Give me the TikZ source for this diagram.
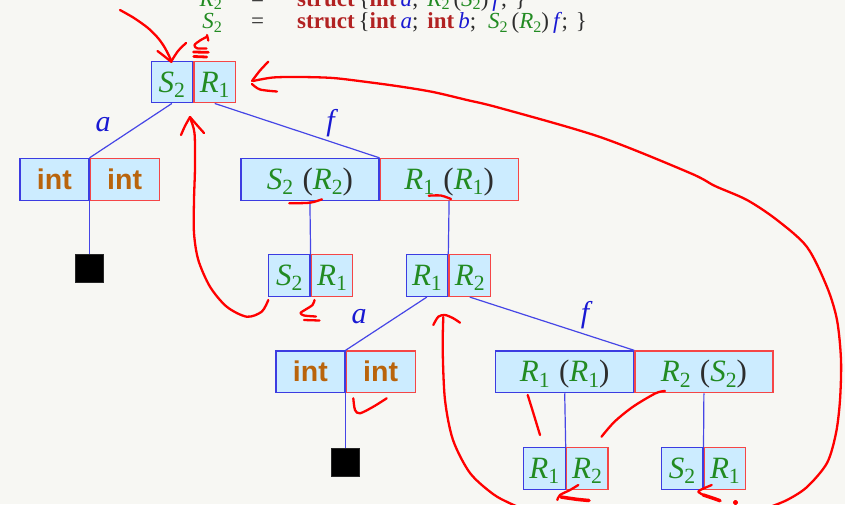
\documentclass[tikz,border=0pt]{standalone}
\usepackage{fontspec}
\setmainfont{Liberation Serif}
\newfontfamily\sansint{Liberation Sans}

\definecolor{bg}{RGB}{247,247,243}
\definecolor{boxfill}{RGB}{204,236,255}
\definecolor{boxblue}{RGB}{60,60,225}
\definecolor{boxred}{RGB}{245,70,70}
\definecolor{edgeblue}{RGB}{70,70,230}
\definecolor{tgreen}{RGB}{34,139,34}
\definecolor{lblue}{RGB}{25,25,210}
\definecolor{kwred}{RGB}{178,34,34}
\definecolor{intbrown}{RGB}{185,100,12}
\definecolor{paren}{RGB}{45,45,45}
\definecolor{ink}{RGB}{255,0,0}

% type variable with an upright subscript
\newcommand\tv[2]{{\color{tgreen}\itshape #1\raisebox{-0.17em}{\upshape\scalebox{0.7}{#2}}}}
% type variable applied to a type variable
\newcommand\pv[4]{\tv{#1}{#2}\hspace{0.3em}{\color{paren}(}\tv{#3}{#4}{\color{paren})}}
\newcommand\kint{{\sansint\bfseries\color{intbrown}int}}
% pieces of the struct definitions
\newcommand\kw[1]{{\color{kwred}\bfseries #1}}
\newcommand\fv[1]{{\color{lblue}\itshape #1}}
\newcommand\pu[1]{{\color{paren}#1}}

\tikzset{
  half/.style={draw, fill=boxfill, line width=1.2pt, minimum height=41.7pt,
    inner sep=0pt, font=\fontsize{31}{36}\selectfont, text height=20pt, text depth=0pt},
  lh/.style={half, draw=boxblue, anchor=east},
  rh/.style={half, draw=boxred, anchor=west},
  nw/.style={minimum width=41.6pt},
  iw/.style={minimum width=69pt},
  pw/.style={minimum width=138pt},
  intlab/.style={font=\fontsize{28.5}{34}\selectfont},
  edge/.style={draw=edgeblue, line width=1.2pt},
  leaf/.style={fill=black, draw=black!85, line width=0.6pt, minimum size=28pt, inner sep=0pt},
  elab/.style={font=\fontsize{30}{34}\selectfont\itshape, text=lblue, inner sep=0pt},
  deftext/.style={font=\fontsize{23}{27}\selectfont, inner sep=0pt},
  ink/.style={draw=ink, line width=2.3pt, line cap=round, line join=round},
}

\begin{document}
\begin{tikzpicture}[x=1pt,y=-1pt]
\useasboundingbox (0,0) rectangle (845,504);
\fill[bg] (0,0) rectangle (845,504);
\clip (0,0) rectangle (845,504);

% struct definitions
\node[deftext, anchor=base east] (d1lhs) at (222,6) {\tv{R}{2}};
\node[deftext, anchor=base] (d1eq) at (257.5,6) {\pu{=}};
\node[deftext, anchor=base west] (d1rhs) at (297,6)
  {\kw{struct}\hspace{4pt}\pu{\{}\kw{int}\hspace{4pt}\fv{a}\pu{;}\hspace{9pt}\tv{R}{2}\hspace{4pt}\pu{(}\tv{S}{2}\pu{)}\hspace{4pt}\fv{f}\hspace{2pt}\pu{;}\hspace{8pt}\pu{\}}};
\node[deftext, anchor=base east] (d2lhs) at (222,28.5) {\tv{S}{2}};
\node[deftext, anchor=base] (d2eq) at (257.5,28.5) {\pu{=}};
\node[deftext, anchor=base west] (d2rhs) at (297,28.5)
  {\kw{struct}\hspace{4pt}\pu{\{}\kw{int}\hspace{4pt}\fv{a}\pu{;}\hspace{9pt}\kw{int}\hspace{4pt}\fv{b}\pu{;}\hspace{12pt}\tv{S}{2}\hspace{4pt}\pu{(}\tv{R}{2}\pu{)}\hspace{4pt}\fv{f}\hspace{2pt}\pu{;}\hspace{8pt}\pu{\}}};

% level 0
\node[lh, nw] (r-l) at (193.3,82) {\tv{S}{2}};
\node[rh, nw] (r-r) at (r-l.east) {\tv{R}{1}};
% level 1
\node[lh, iw, intlab] (c1-l) at (89.5,179.3) {\kint};
\node[rh, iw, intlab] (c1-r) at (c1-l.east) {\kint};
\node[lh, pw] (c2-l) at (379.5,179.3) {\pv{S}{2}{R}{2}};
\node[rh, pw] (c2-r) at (c2-l.east) {\pv{R}{1}{R}{1}};
% level 2
\node[leaf] (sq1) at (89.5,268.5) {};
\node[lh, nw] (d1-l) at (310.6,275.6) {\tv{S}{2}};
\node[rh, nw] (d1-r) at (d1-l.east) {\tv{R}{1}};
\node[lh, nw] (d2-l) at (448.3,275.6) {\tv{R}{1}};
\node[rh, nw] (d2-r) at (d2-l.east) {\tv{R}{2}};
% level 3
\node[lh, iw, intlab] (e1-l) at (345.5,371.8) {\kint};
\node[rh, iw, intlab] (e1-r) at (e1-l.east) {\kint};
\node[lh, pw] (e2-l) at (634.3,371.8) {\pv{R}{1}{R}{1}};
\node[rh, pw] (e2-r) at (e2-l.east) {\pv{R}{2}{S}{2}};
% level 4
\node[leaf] (sq2) at (345.5,461.8) {};
\node[lh, nw] (f1-l) at (565.7,468.6) {\tv{R}{1}};
\node[rh, nw] (f1-r) at (f1-l.east) {\tv{R}{2}};
\node[lh, nw] (f2-l) at (703.5,468.6) {\tv{S}{2}};
\node[rh, nw] (f2-r) at (f2-l.east) {\tv{R}{1}};

% tree edges
\draw[edge] (r-l.south) -- (c1-l.north east);
\draw[edge] (r-r.south) -- (c2-l.north east);
\draw[edge] (c1-l.south east) -- (sq1.north);
\draw[edge] (c2-l.south) -- (d1-l.north east);
\draw[edge] (c2-r.south) -- (d2-l.north east);
\draw[edge] (d2-l.south) -- (e1-l.north east);
\draw[edge] (d2-r.south) -- (e2-l.north east);
\draw[edge] (e1-l.south east) -- (sq2.north);
\draw[edge] (e2-l.south) -- (f1-l.north east);
\draw[edge] (e2-r.south) -- (f2-l.north east);

% field labels
\node[elab] (la1) at (103,125) {a};
\node[elab] (lf1) at (330.5,123.5) {f};
\node[elab] (la2) at (359,317) {a};
\node[elab] (lf2) at (585,315) {f};

% hand-drawn annotations
% arrow into the root from the top left
\draw[ink] plot[smooth] coordinates {(120,10) (134,18) (148,28) (158,38) (165,48) (171.5,61)};
\draw[ink] plot[smooth] coordinates {(157.5,51) (164,56) (171.5,62)};
\draw[ink] plot[smooth] coordinates {(171.5,61) (178,51) (186,43)};
% subset sign above the root
\draw[ink] plot[smooth] coordinates {(206.5,37) (200,40.5) (194.5,45) (197,48.3) (206.5,48.5)};
\draw[ink] (207,35) -- (208.3,40.5);
\draw[ink, line width=2.8pt] (193.5,52) -- (208.3,52.3);
\draw[ink, line width=2.8pt] (193.8,56.5) -- (206.7,57);
% long loop back to the root
\draw[ink] plot[smooth] coordinates {(268.3,61.7) (260,70.5) (252,81)};
\draw[ink] plot[smooth] coordinates {(252,84) (260,89.5) (277,91.5)};
\draw[ink] plot[smooth] coordinates {(253,81) (273,77.5) (300,77) (333,78) (367,82) (400,86.5)
  (433,92) (467,100) (500,108) (600,137) (690,173) (715,186) (747,200) (777,220) (807,247)
  (827,287) (837,320) (841,360) (840,400) (836,433) (827,463) (807,487) (787,500) (767,508)};
% loop from the second level back to the root
\draw[ink] plot[smooth] coordinates {(268.3,300) (261.7,311.7) (246.7,316.7) (226.7,306.7)
  (210,286.7) (198.3,260) (194,233) (194,200) (195,167) (194.5,133) (190,118)};
\draw[ink] plot[smooth] coordinates {(181,135) (185,126) (190,117)};
\draw[ink] plot[smooth] coordinates {(190,117) (196,124) (204,133)};
% subset sign below the second-level box
\draw[ink] plot[smooth] coordinates {(314.5,300) (312.5,305) (304,310.5) (300.5,313) (304,315.5) (316,316.5)};
\draw[ink] (304,320) -- (319.5,320.5);
% strokes under the function types
\draw[ink] plot[smooth] coordinates {(289.3,203.3) (310,202.7) (322,199.3)};
\draw[ink] plot[smooth] coordinates {(428.7,195.7) (440.8,195.5) (451,199)};
% tick under the int pair
\draw[ink] plot[smooth] coordinates {(353.3,398.3) (355,410) (360,413.3) (373.3,406.7) (386.7,398.3)};
% loop from the bottom back to the inner pair
\draw[ink] plot[smooth] coordinates {(433.3,325) (438.3,316.7) (445,315) (453.3,318.3) (460,322.7)};
\draw[ink] plot[smooth] coordinates {(443.3,317) (442.7,350) (445,400) (453,440) (470,473)
  (493,494) (510,503.3) (530,512)};
% strokes between the third and fourth levels
\draw[ink] plot[smooth] coordinates {(527.7,395) (533,412) (540,435)};
\draw[ink] plot[smooth] coordinates {(665,391) (655.5,393.3) (633,406.7) (614.5,421.7) (601.5,436.7)};
% marks under the bottom boxes
\draw[ink] plot[smooth] coordinates {(578.3,485) (570,490) (560,495) (557.3,500)};
\draw[ink, line width=3.5pt] plot[smooth] coordinates {(561,497) (576.7,499.3) (589,500.5)};
\draw[ink] plot[smooth] coordinates {(711.7,485) (701.7,489.3) (698.3,491.7) (703.3,495)};
\draw[ink, line width=3.5pt] plot[smooth] coordinates {(703.3,495) (713.3,498.3) (720,500.7)};
\fill[ink] (735.5,502.5) circle (1.6pt);
\end{tikzpicture}
\end{document}
